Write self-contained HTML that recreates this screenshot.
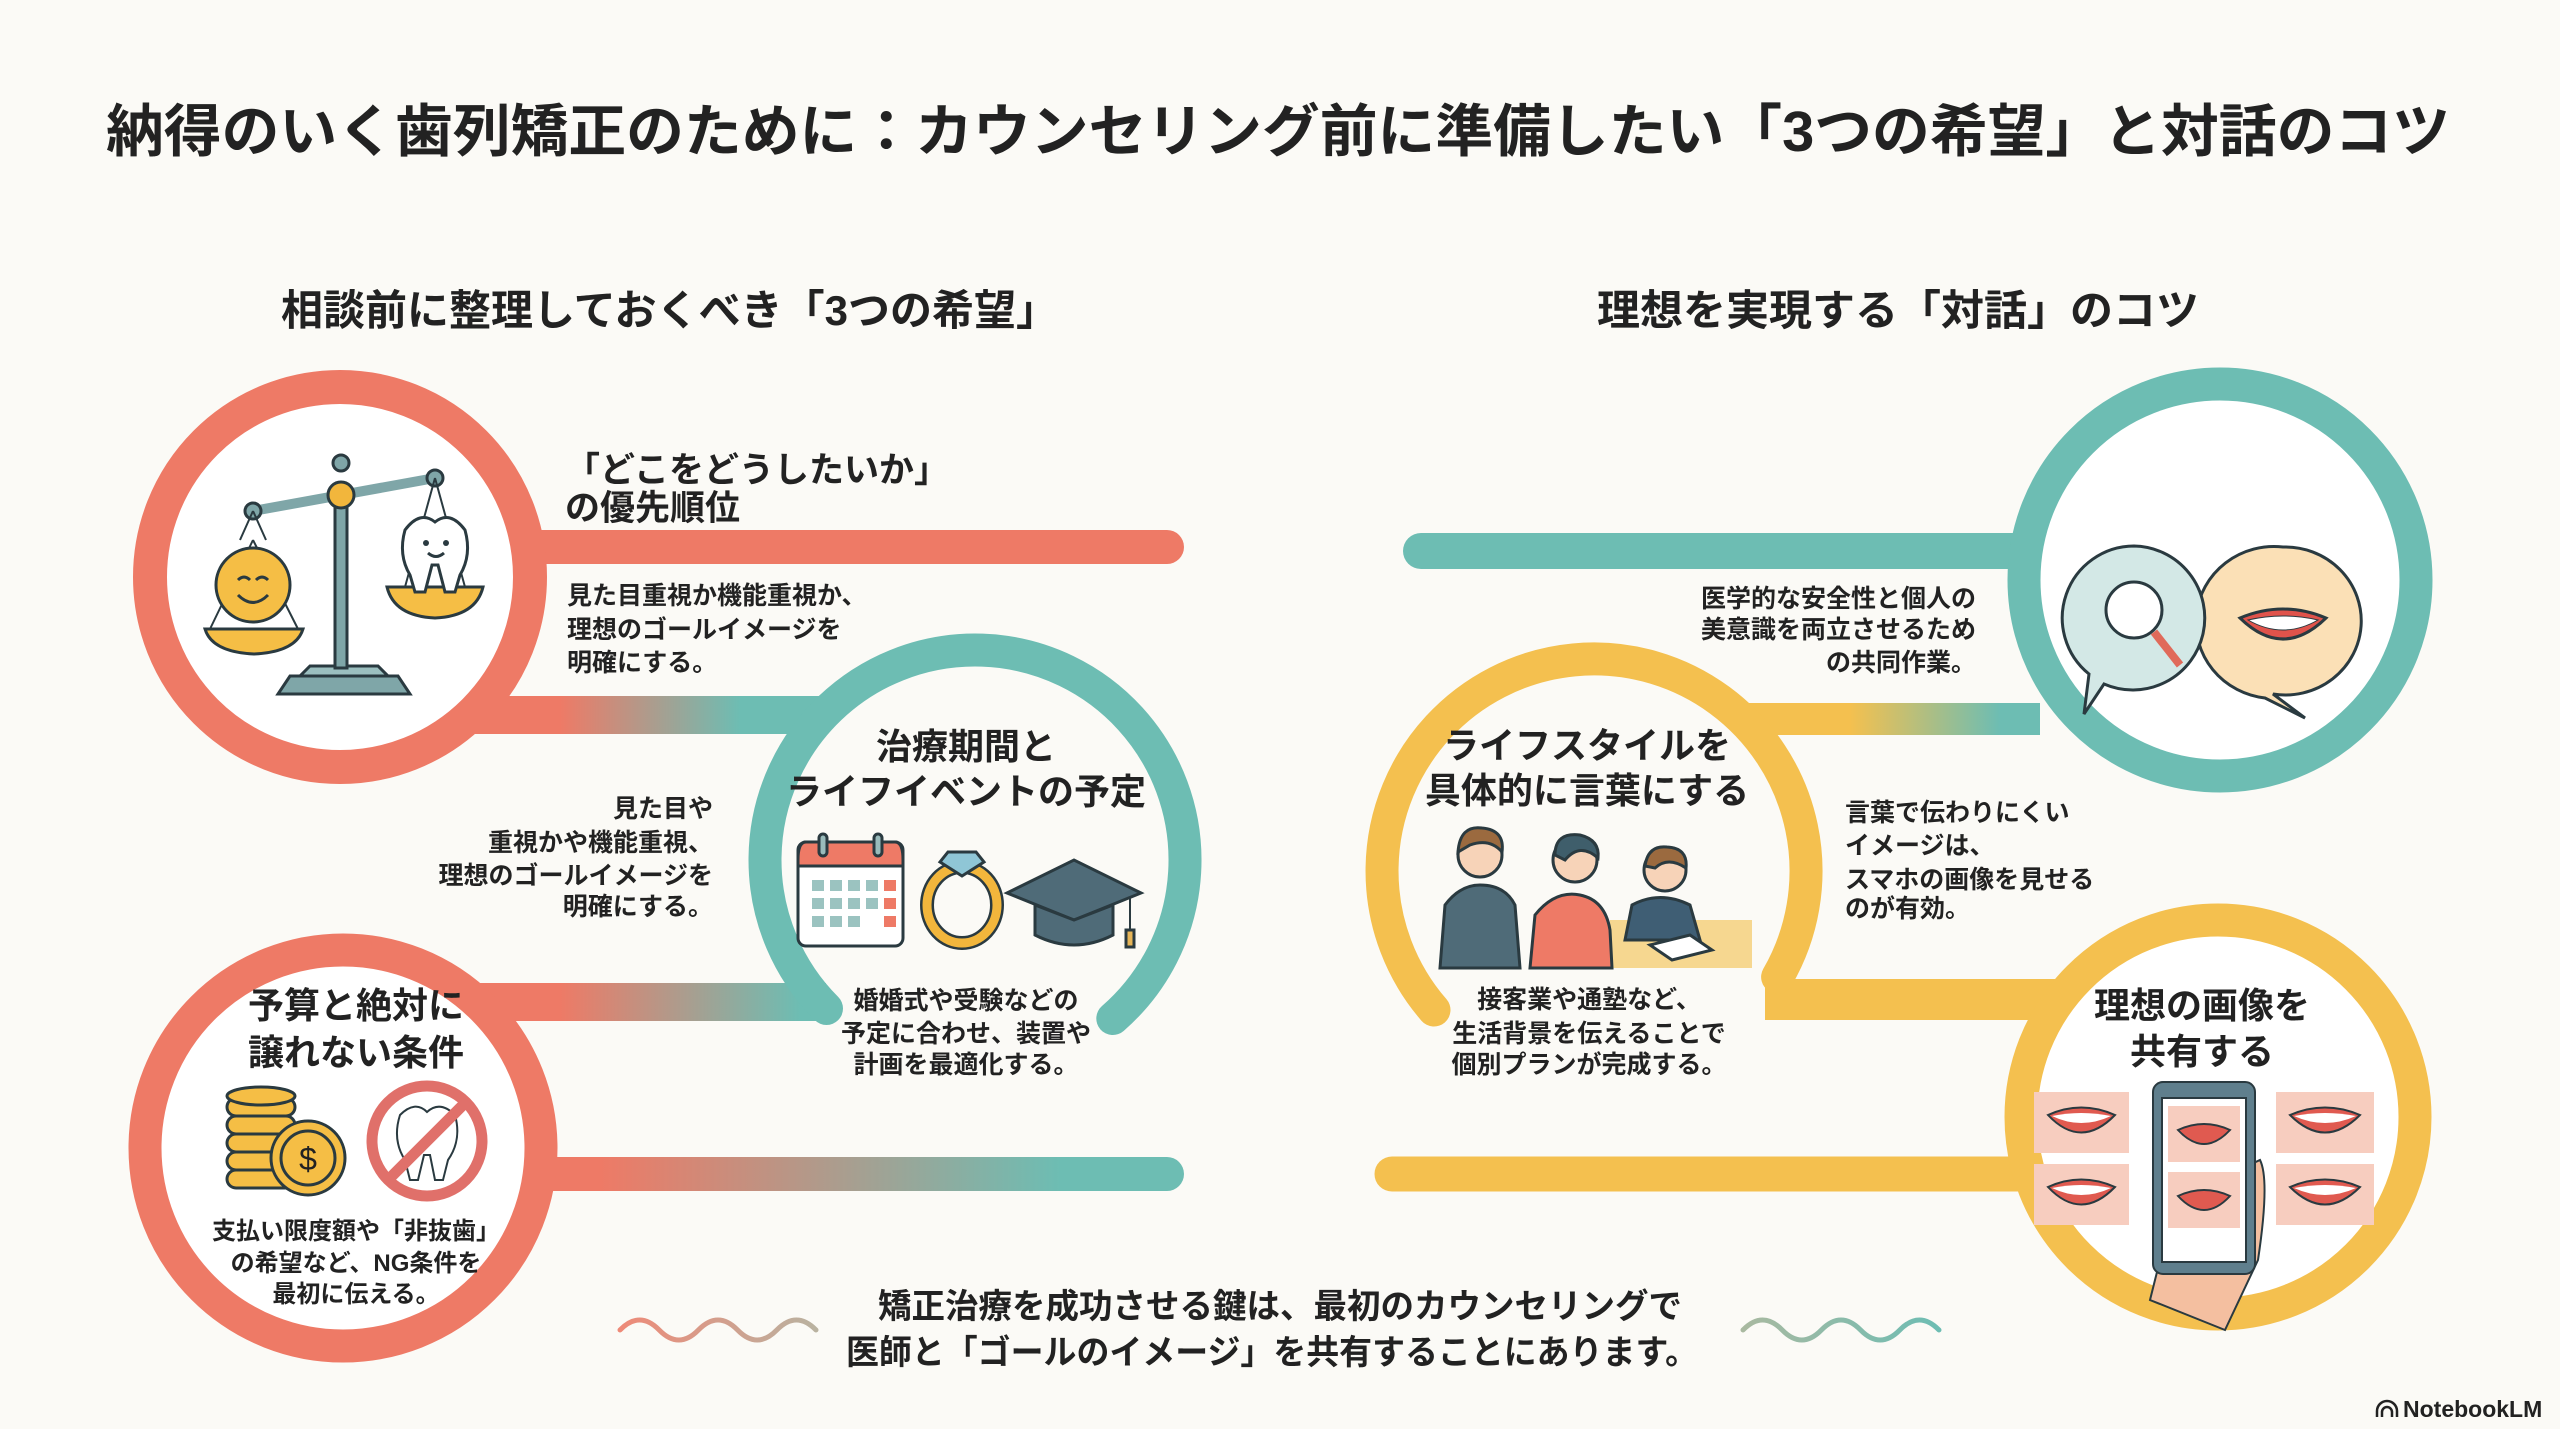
<!DOCTYPE html>
<html><head><meta charset="utf-8"><style>
html,body{margin:0;padding:0;background:#FBFAF6;}
svg{display:block;}
text{font-family:"Liberation Sans","Noto Sans CJK JP",sans-serif;fill:#222;}
.b{font-weight:bold;}
</style></head><body>
<svg width="2560" height="1429" viewBox="0 0 2560 1429" xmlns="http://www.w3.org/2000/svg">
<defs>
<linearGradient id="g1" gradientUnits="userSpaceOnUse" x1="560" y1="0" x2="740" y2="0"><stop offset="0" stop-color="#EE7A66"/><stop offset="1" stop-color="#6DBDB3"/></linearGradient>
<linearGradient id="g2" gradientUnits="userSpaceOnUse" x1="560" y1="0" x2="800" y2="0"><stop offset="0" stop-color="#EE7A66"/><stop offset="1" stop-color="#6DBDB3"/></linearGradient>
<linearGradient id="g3" gradientUnits="userSpaceOnUse" x1="600" y1="0" x2="1060" y2="0"><stop offset="0" stop-color="#EE7A66"/><stop offset="1" stop-color="#6DBDB3"/></linearGradient>
<linearGradient id="g4" gradientUnits="userSpaceOnUse" x1="1850" y1="0" x2="2000" y2="0"><stop offset="0" stop-color="#F4C04F"/><stop offset="1" stop-color="#6DBDB3"/></linearGradient>
<linearGradient id="w1" gradientUnits="userSpaceOnUse" x1="620" y1="0" x2="816" y2="0"><stop offset="0" stop-color="#EE8A78"/><stop offset="1" stop-color="#B9B2A0"/></linearGradient>
<linearGradient id="w2" gradientUnits="userSpaceOnUse" x1="1743" y1="0" x2="1939" y2="0"><stop offset="0" stop-color="#A9B9A0"/><stop offset="1" stop-color="#6DBDB3"/></linearGradient>
</defs>

<text class="b" x="106" y="151" font-size="57" textLength="2344" lengthAdjust="spacingAndGlyphs">納得のいく歯列矯正のために：カウンセリング前に準備したい「3つの希望」と対話のコツ</text>
<text class="b" x="281" y="325" font-size="42" textLength="777" lengthAdjust="spacingAndGlyphs">相談前に整理しておくべき「3つの希望」</text>
<text class="b" x="1597" y="325" font-size="42" textLength="602" lengthAdjust="spacingAndGlyphs">理想を実現する「対話」のコツ</text>

<!-- LEFT STRUCTURE -->
<rect x="470" y="696" width="356" height="38" fill="url(#g1)"/>
<rect x="464" y="983" width="362" height="38" fill="url(#g2)"/>
<line x1="520" y1="547" x2="1167" y2="547" stroke="#EE7A66" stroke-width="34" stroke-linecap="round"/>
<line x1="530" y1="1174" x2="1167" y2="1174" stroke="url(#g3)" stroke-width="34" stroke-linecap="round"/>
<circle cx="340" cy="577" r="190" fill="#fff" stroke="#EE7A66" stroke-width="34"/>
<circle cx="343" cy="1148" r="198" fill="#fff" stroke="#EE7A66" stroke-width="33"/>
<path d="M826.5 1008.5 A210 210 0 1 1 1112.8 1018.5" fill="none" stroke="#6DBDB3" stroke-width="33" stroke-linecap="round"/>

<!-- RIGHT STRUCTURE -->
<rect x="1742" y="703" width="298" height="32" fill="url(#g4)"/>
<rect x="1765" y="979" width="300" height="41" fill="#F4C04F"/>
<line x1="1421" y1="551" x2="2030" y2="551" stroke="#6DBDB3" stroke-width="36" stroke-linecap="round"/>
<line x1="1392" y1="1174" x2="2030" y2="1174" stroke="#F4C04F" stroke-width="35" stroke-linecap="round"/>
<circle cx="2220" cy="580" r="196" fill="#fff" stroke="#6DBDB3" stroke-width="33"/>
<path d="M1434 1010 A212 212 0 1 1 1777.6 977" fill="none" stroke="#F4C04F" stroke-width="33" stroke-linecap="round"/>
<circle cx="2218" cy="1117" r="197" fill="#fff" stroke="#F4C04F" stroke-width="33"/>

<!-- Scale icon -->
<g stroke="#2a3a40" stroke-width="3">
<path d="M278 694 L410 694 L398 676 L290 676 Z" fill="#7FA6A8"/>
<path d="M300 676 L388 676 L378 666 L310 666 Z" fill="#9BBFBF"/>
<rect x="335" y="490" width="12" height="178" fill="#7FA6A8"/>
<line x1="253" y1="511" x2="435" y2="478" stroke="#7FA6A8" stroke-width="10"/>
<circle cx="341" cy="463" r="8" fill="#7FA6A8"/>
<circle cx="341" cy="495" r="13" fill="#F2B63C"/>
<circle cx="253" cy="511" r="8" fill="#7FA6A8"/>
<circle cx="435" cy="478" r="8" fill="#7FA6A8"/>
<path d="M253 511 L240 540 M253 511 L266 540 M435 478 L405 587 M435 478 L465 587 M253 540 L210 629 M253 540 L298 629" fill="none" stroke-width="2"/>
<path d="M205 629 L303 629 Q296 652 254 654 Q212 652 205 629 Z" fill="#F5BE45"/>
<circle cx="253" cy="585" r="37" fill="#F5BE45"/>
<path d="M387 587 L483 587 Q476 616 435 618 Q394 616 387 587 Z" fill="#F5BE45"/>
<path d="M405 530 Q420 510 435 522 Q450 510 465 530 Q472 555 460 575 L455 592 L445 592 L438 565 L432 565 L425 592 L415 592 L410 575 Q398 555 405 530 Z" fill="#fff"/>
</g>
<path d="M238 580 q6 -6 12 0 M256 580 q6 -6 12 0 M238 595 q15 15 30 0" fill="none" stroke="#2a3a40" stroke-width="3"/>
<circle cx="426" cy="543" r="3" fill="#2a3a40"/><circle cx="446" cy="543" r="3" fill="#2a3a40"/>
<path d="M428 553 q8 7 16 0" fill="none" stroke="#2a3a40" stroke-width="3"/>

<text class="b" x="565" y="482" font-size="35">「どこをどうしたいか」</text>
<text class="b" x="565" y="520" font-size="35">の優先順位</text>
<g font-size="25" class="b">
<text x="567" y="604">見た目重視か機能重視か、</text>
<text x="567" y="638">理想のゴールイメージを</text>
<text x="567" y="671">明確にする。</text>
</g>
<g font-size="25" class="b" text-anchor="end">
<text x="713" y="817">見た目や</text>
<text x="713" y="851">重視かや機能重視、</text>
<text x="713" y="884">理想のゴールイメージを</text>
<text x="713" y="915">明確にする。</text>
</g>

<g class="b" text-anchor="middle" font-size="36">
<text x="966" y="759">治療期間と</text>
<text x="966" y="804">ライフイベントの予定</text>
</g>
<g stroke="#2a3a40" stroke-width="3">
<rect x="798" y="842" width="105" height="104" rx="8" fill="#fff"/>
<path d="M798 860 Q798 842 806 842 L895 842 Q903 842 903 860 L903 866 L798 866 Z" fill="#EE7A66"/>
<rect x="819" y="834" width="8" height="22" rx="4" fill="#9bb"/><rect x="874" y="834" width="8" height="22" rx="4" fill="#9bb"/>
<ellipse cx="962" cy="905" rx="35" ry="38" fill="none" stroke="#2a3a40" stroke-width="14"/>
<ellipse cx="962" cy="905" rx="35" ry="38" fill="none" stroke="#F2B63C" stroke-width="9"/>
<path d="M948 852 L976 852 L984 862 L962 876 L940 862 Z" fill="#8FC6D6"/>
<path d="M1007 893 L1074 860 L1141 893 L1074 920 Z" fill="#4F6B78"/>
<path d="M1035 905 L1035 935 Q1074 955 1113 935 L1113 905 L1074 920 Z" fill="#4F6B78"/>
<line x1="1130" y1="897" x2="1130" y2="935" stroke-width="2"/>
<rect x="1126" y="930" width="8" height="17" fill="#E6B558"/>
</g>
<g fill="#9BC3C0">
<rect x="812" y="880" width="12" height="11"/><rect x="830" y="880" width="12" height="11"/><rect x="848" y="880" width="12" height="11"/><rect x="866" y="880" width="12" height="11"/>
<rect x="812" y="898" width="12" height="11"/><rect x="830" y="898" width="12" height="11"/><rect x="848" y="898" width="12" height="11"/><rect x="866" y="898" width="12" height="11"/>
<rect x="812" y="916" width="12" height="11"/><rect x="830" y="916" width="12" height="11"/><rect x="848" y="916" width="12" height="11"/>
</g>
<g fill="#EE7A66"><rect x="884" y="880" width="12" height="11"/><rect x="884" y="898" width="12" height="11"/><rect x="884" y="916" width="12" height="11"/></g>
<g class="b" text-anchor="middle" font-size="25">
<text x="966" y="1009">婚婚式や受験などの</text>
<text x="966" y="1042">予定に合わせ、装置や</text>
<text x="966" y="1073">計画を最適化する。</text>
</g>

<g class="b" text-anchor="middle" font-size="36">
<text x="356" y="1018">予算と絶対に</text>
<text x="356" y="1065">譲れない条件</text>
</g>
<g stroke="#2a3a40" stroke-width="3" fill="#F5BE45">
<rect x="227" y="1170" width="68" height="18" rx="9"/>
<rect x="227" y="1152" width="68" height="18" rx="9"/>
<rect x="227" y="1134" width="68" height="18" rx="9"/>
<rect x="227" y="1116" width="68" height="18" rx="9"/>
<rect x="227" y="1098" width="68" height="18" rx="9"/>
<ellipse cx="261" cy="1096" rx="34" ry="9"/>
<circle cx="308" cy="1158" r="37"/>
<circle cx="308" cy="1158" r="27" fill="none"/>
<circle cx="427" cy="1141" r="55" fill="#fff" stroke="#E0706A" stroke-width="11"/>
<path d="M400 1115 Q415 1100 427 1112 Q440 1100 455 1115 Q462 1140 448 1160 L443 1180 L435 1180 L430 1155 L424 1155 L418 1180 L410 1180 L405 1160 Q392 1140 400 1115 Z" fill="#fff" stroke-width="2"/>
<line x1="466" y1="1102" x2="388" y2="1180" stroke="#E0706A" stroke-width="11"/>
</g>
<text x="308" y="1170" font-size="32" text-anchor="middle" fill="#7a6a20">$</text>
<g class="b" text-anchor="middle" font-size="24">
<text x="356" y="1239">支払い限度額や「非抜歯」</text>
<text x="356" y="1271">の希望など、NG条件を</text>
<text x="356" y="1302">最初に伝える。</text>
</g>

<g stroke="#2a3a40" stroke-width="3">
<path d="M2283 547 a76 74 0 1 1 -10 147 l32 24 l-40 -20 a76 74 0 0 1 18 -151 Z" fill="#FBE0B6"/>
<path d="M2134 546 a72 72 0 1 1 -30 138 l-20 30 l5 -40 a72 72 0 0 1 45 -128 Z" fill="#D3E8E6"/>
<circle cx="2134" cy="610" r="28" fill="#fff"/>
<line x1="2154" y1="632" x2="2180" y2="665" stroke="#E06A5A" stroke-width="8"/>
<path d="M2240 618 Q2283 600 2326 618 Q2283 660 2240 618 Z" fill="#E0534B"/>
<path d="M2248 620 Q2283 612 2318 620 Q2283 640 2248 620 Z" fill="#fff" stroke-width="1"/>
</g>
<g class="b" text-anchor="end" font-size="25">
<text x="1976" y="607">医学的な安全性と個人の</text>
<text x="1976" y="638">美意識を両立させるため</text>
<text x="1976" y="671">の共同作業。</text>
</g>

<g class="b" text-anchor="middle" font-size="36">
<text x="1587" y="758">ライフスタイルを</text>
<text x="1587" y="803">具体的に言葉にする</text>
</g>
<g stroke="#2a3a40" stroke-width="3">
<rect x="1610" y="920" width="142" height="48" fill="#F6D790" stroke="none"/>
<path d="M1440 968 L1445 905 Q1460 885 1480 885 Q1505 885 1515 905 L1520 968 Z" fill="#4F6B78"/>
<circle cx="1480" cy="855" r="22" fill="#F7D3B8"/>
<path d="M1458 852 Q1460 825 1482 828 Q1505 830 1502 852 Q1490 838 1470 845 Z" fill="#9B6A3F"/>
<path d="M1530 968 L1535 915 Q1555 890 1580 895 Q1605 900 1610 930 L1612 968 Z" fill="#EE7A66"/>
<circle cx="1575" cy="860" r="22" fill="#F7D3B8"/>
<path d="M1555 855 Q1555 832 1580 835 Q1600 840 1598 858 Q1580 842 1565 860 Z" fill="#3F5E6B"/>
<path d="M1625 940 L1632 905 Q1660 890 1690 905 L1700 940 Z" fill="#3F5E74"/>
<circle cx="1665" cy="870" r="21" fill="#F7D3B8"/>
<path d="M1645 866 Q1648 845 1667 847 Q1688 848 1686 868 Q1668 856 1655 868 Z" fill="#9B6A3F"/>
<path d="M1650 945 L1690 935 L1712 950 L1672 960 Z" fill="#fff"/>
</g>
<g class="b" text-anchor="middle" font-size="25">
<text x="1589" y="1008">接客業や通塾など、</text>
<text x="1589" y="1042">生活背景を伝えることで</text>
<text x="1589" y="1073">個別プランが完成する。</text>
</g>
<g class="b" font-size="25">
<text x="1845" y="821">言葉で伝わりにくい</text>
<text x="1845" y="854">イメージは、</text>
<text x="1845" y="888">スマホの画像を見せる</text>
<text x="1845" y="917">のが有効。</text>
</g>

<g class="b" text-anchor="middle" font-size="36">
<text x="2202" y="1018">理想の画像を</text>
<text x="2202" y="1064">共有する</text>
</g>
<g stroke="#2a3a40" stroke-width="2">
<rect x="2034" y="1092" width="95" height="61" fill="#F7CDBF" stroke="none"/>
<rect x="2034" y="1164" width="95" height="61" fill="#F7CDBF" stroke="none"/>
<rect x="2276" y="1092" width="98" height="61" fill="#F7CDBF" stroke="none"/>
<rect x="2276" y="1164" width="98" height="61" fill="#F7CDBF" stroke="none"/>
<path d="M2048 1115 Q2081 1100 2115 1115 Q2081 1150 2048 1115 Z" fill="#E05A50"/>
<path d="M2048 1187 Q2081 1172 2115 1187 Q2081 1222 2048 1187 Z" fill="#E05A50"/>
<path d="M2290 1115 Q2325 1100 2360 1115 Q2325 1150 2290 1115 Z" fill="#E05A50"/>
<path d="M2290 1187 Q2325 1172 2360 1187 Q2325 1222 2290 1187 Z" fill="#E05A50"/>
<path d="M2150 1300 L2175 1200 L2260 1160 Q2270 1180 2258 1260 L2225 1330 Z" fill="#F4BFA0"/>
<rect x="2153" y="1082" width="102" height="192" rx="10" fill="#5F7F8D"/>
<rect x="2162" y="1098" width="84" height="164" fill="#fff"/>
<rect x="2168" y="1106" width="72" height="56" fill="#F7CDBF" stroke="none"/>
<rect x="2168" y="1172" width="72" height="56" fill="#F7CDBF" stroke="none"/>
<path d="M2178 1130 Q2204 1118 2230 1130 Q2204 1158 2178 1130 Z" fill="#E05A50"/>
<path d="M2178 1196 Q2204 1184 2230 1196 Q2204 1224 2178 1196 Z" fill="#E05A50"/>
</g>
<g fill="#fff">
<path d="M2052 1116 Q2081 1110 2111 1116 Q2081 1130 2052 1116 Z"/>
<path d="M2052 1188 Q2081 1182 2111 1188 Q2081 1202 2052 1188 Z"/>
<path d="M2294 1116 Q2325 1110 2356 1116 Q2325 1130 2294 1116 Z"/>
<path d="M2294 1188 Q2325 1182 2356 1188 Q2325 1202 2294 1188 Z"/>
</g>

<path d="M620 1330 q19.6 -20 39.2 0 t39.2 0 t39.2 0 t39.2 0 t39.2 0" fill="none" stroke="url(#w1)" stroke-width="5" stroke-linecap="round"/>
<path d="M1743 1330 q19.6 -20 39.2 0 t39.2 0 t39.2 0 t39.2 0 t39.2 0" fill="none" stroke="url(#w2)" stroke-width="5" stroke-linecap="round"/>
<text class="b" x="878" y="1318" font-size="34" textLength="804" lengthAdjust="spacingAndGlyphs">矯正治療を成功させる鍵は、最初のカウンセリングで</text>
<text class="b" x="846" y="1364" font-size="34" textLength="852" lengthAdjust="spacingAndGlyphs">医師と「ゴールのイメージ」を共有することにあります。</text>

<path d="M2377 1417 v-6 a10 10 0 0 1 20 0 v6 M2382 1417 v-5 a5 5 0 0 1 10 0 v5" fill="none" stroke="#222" stroke-width="2.5"/>
<text x="2403" y="1417" font-size="23" font-weight="bold">NotebookLM</text>
</svg>
</body></html>
